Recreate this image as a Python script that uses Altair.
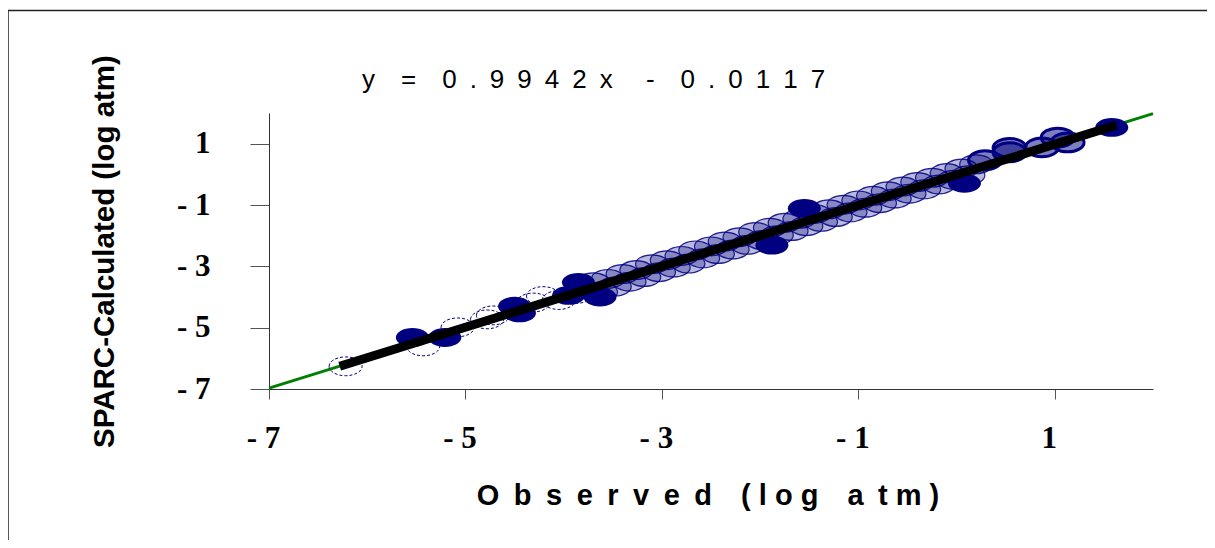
import altair as alt
import pandas as pd

# ---------------- data ----------------
# solid navy ellipses
obs_filled = [-5.54, -5.21, -4.50, -4.45, -3.95, -3.85, -3.63, -1.88, -1.55, 0.08, 1.58]
calc_filled = [-5.32, -5.32, -4.30, -4.52, -3.95, -3.52, -4.00, -2.31, -1.11, -0.29, 1.53]

# open (dashed outline) ellipses
obs_open = [-6.22, -5.43, -5.08, -4.78, -4.72, -4.31, -4.21, -4.05, -3.87]
calc_open = [-6.26, -5.61, -4.99, -4.73, -4.60, -4.18, -3.97, -4.10, -3.90]

# patterned ellipses (dense band)
obs_tex = [-3.70, -3.62, -3.55, -3.48, -3.40, -3.33, -3.26, -3.18, -3.10, -3.03,
           -2.95, -2.88, -2.80, -2.73, -2.66, -2.58, -2.50, -2.43, -2.36, -2.28,
           -2.21, -2.13, -2.05, -1.98, -1.90, -1.83, -1.75, -1.68, -1.60, -1.53,
           -1.45, -1.38, -1.30, -1.23, -1.15, -1.08, -1.00, -0.93, -0.85, -0.78,
           -0.70, -0.63, -0.55, -0.48, -0.40, -0.33, -0.25, -0.18, -0.10, -0.03,
           0.05, 0.12, 0.20]
calc_tex = [-3.52, -3.84, -3.41, -3.66, -3.25, -3.50, -3.12, -3.35, -2.93, -3.19,
            -2.80, -3.04, -2.66, -2.91, -2.48, -2.74, -2.35, -2.60, -2.19, -2.45,
            -2.05, -2.30, -1.88, -2.14, -1.74, -1.99, -1.58, -1.85, -1.45, -1.69,
            -1.29, -1.55, -1.14, -1.39, -0.99, -1.24, -0.85, -1.09, -0.70, -0.94,
            -0.55, -0.79, -0.40, -0.63, -0.25, -0.49, -0.11, -0.33, 0.04, -0.18,
            0.19, -0.03, 0.33]

# hatched ellipses near the upper end
obs_hatch = [0.29, 0.54, 0.54, 0.87, 1.03, 1.13]
calc_hatch = [0.46, 0.72, 0.86, 0.88, 1.20, 1.04]

# trend line over full axis and fitted line over data range
trend_x = [-7.0, 2.0]
trend_y = [-6.97, 1.98]
fit_x = [-6.28, 1.63]
fit_y = [-6.26, 1.61]

tick_values = [-7, -5, -3, -1, 1]
equation = "y\u2003=\u20030\u2002.\u20029\u20029\u20024\u20022\u2002x\u2003 -\u20030\u2002.\u20020\u20021\u20021\u20027"
x_title = "O\u2002b\u2002s\u2002e\u2002r\u2002v\u2002e\u2002d\u2003( l o g\u2003a\u2002t m  )"
y_title = "SPARC-Calculated (log atm)"

NAVY = "#000080"
ELLIPSE = "M -1 0 A 1 0.57 0 1 1 1 0 A 1 0.57 0 1 1 -1 0 Z"
DOM = [-7, 2]

df_f = pd.DataFrame({"obs": obs_filled, "calc": calc_filled})
df_o = pd.DataFrame({"obs": obs_open, "calc": calc_open})
df_t = pd.DataFrame({"obs": obs_tex, "calc": calc_tex})
df_h = pd.DataFrame({"obs": obs_hatch, "calc": calc_hatch})
df_trend = pd.DataFrame({"obs": trend_x, "calc": trend_y})
df_fit = pd.DataFrame({"obs": fit_x, "calc": fit_y})
df_eq = pd.DataFrame({"label": [equation]})
df_frame = pd.DataFrame({"k": [0]})

label_expr = "datum.value < 0 ? '- ' + abs(datum.value) : '' + datum.value"

x_enc = alt.X(
    "obs:Q",
    scale=alt.Scale(domain=DOM, nice=False, zero=False),
    axis=alt.Axis(
        values=tick_values, labelExpr=label_expr, grid=False,
        labelFont="Liberation Serif", labelFontWeight="bold", labelFontSize=31,
        labelColor="black", labelPadding=24, labelOffset=-6, labelFlush=False,
        labelOverlap=False, tickSize=10, tickColor="#555", domainColor="#333",
        title=x_title, titleFont="Liberation Sans", titleFontWeight="bold",
        titleFontSize=29, titleColor="black", titleX=438.5, titleY=115,
        titleBaseline="alphabetic", titleAlign="center",
    ),
)
y_enc = alt.Y(
    "calc:Q",
    scale=alt.Scale(domain=DOM, nice=False, zero=False),
    axis=alt.Axis(
        values=tick_values, labelExpr=label_expr, grid=False,
        labelFont="Liberation Serif", labelFontWeight="bold", labelFontSize=31,
        labelColor="black", labelPadding=40, labelFlush=False, labelOverlap=False,
        tickSize=19, tickColor="#555", domainColor="#333",
        title=y_title, titleFont="Liberation Sans", titleFontWeight="bold",
        titleFontSize=29.5, titleColor="black", titleX=-155.7, titleY=138,
        titleBaseline="alphabetic", titleAlign="center", titleAngle=270,
    ),
)

trend = alt.Chart(df_trend).mark_line(color="#008000", strokeWidth=3).encode(x=x_enc, y=y_enc)

tex = alt.Chart(df_t).mark_point(
    shape=ELLIPSE, size=1089, filled=True, fill=NAVY, fillOpacity=0.27,
    stroke=NAVY, strokeWidth=1.2, strokeOpacity=0.85, opacity=1,
).encode(x=x_enc, y=y_enc)

hatch = alt.Chart(df_h).mark_point(
    shape=ELLIPSE, size=1089, filled=True, fill=NAVY, fillOpacity=0.5,
    stroke=NAVY, strokeWidth=3, strokeOpacity=1, opacity=1,
).encode(x=x_enc, y=y_enc)

filled = alt.Chart(df_f).mark_point(
    shape=ELLIPSE, size=1089, filled=True, fill=NAVY, opacity=1,
).encode(x=x_enc, y=y_enc)

opened = alt.Chart(df_o).mark_point(
    shape=ELLIPSE, size=1089, filled=False, stroke=NAVY, strokeWidth=1,
    strokeDash=[3, 2], opacity=1,
).encode(x=x_enc, y=y_enc)

fit = alt.Chart(df_fit).mark_line(color="black", strokeWidth=9, strokeCap="butt").encode(x=x_enc, y=y_enc)

eq = alt.Chart(df_eq).mark_text(
    font="Liberation Sans", fontSize=26, color="black", align="left", baseline="alphabetic",
).encode(x=alt.value(93), y=alt.value(-25), text="label:N")

frame = alt.Chart(df_frame).mark_rect(
    fill="white", fillOpacity=0, stroke="#222", strokeWidth=1.5,
).encode(x=alt.value(-261), x2=alt.value(1100), y=alt.value(-102.5), y2=alt.value(600))

chart = alt.layer(trend, tex, hatch, filled, opened, fit, eq, frame).properties(
    width=884, height=276,
    padding={"left": 261, "top": 105, "right": 54, "bottom": 151},
    autosize=alt.AutoSizeParams(type="none"),
    background="white",
).configure_view(stroke=None)

chart.save("out.html", embed_options={"renderer": "svg", "actions": False})
